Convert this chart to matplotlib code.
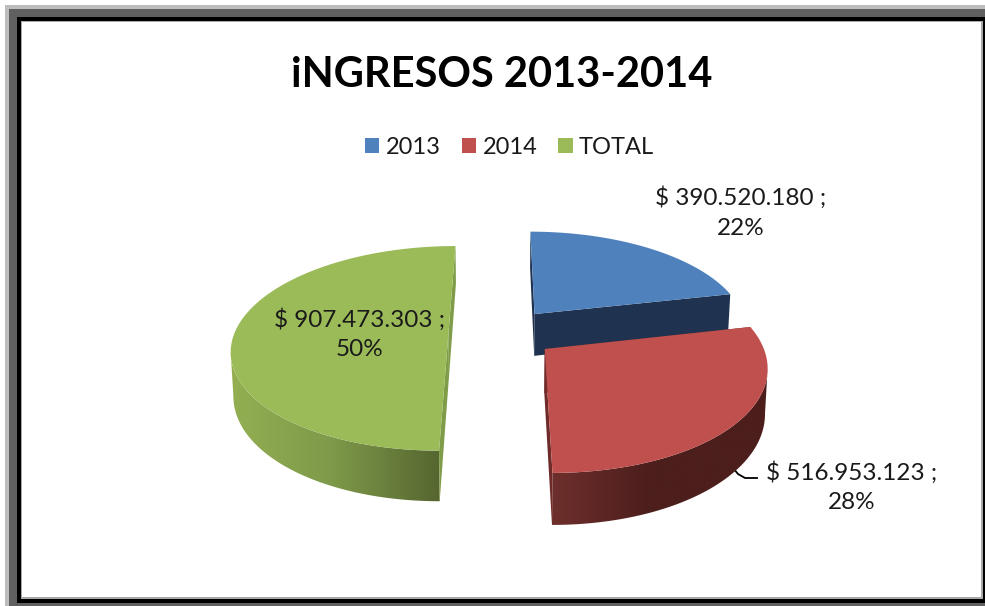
"""
iNGRESOS 2013-2014 - pie 3D (estilo Excel) dibujado con polígonos
"""
import numpy as np
import matplotlib
matplotlib.use('Agg')
import matplotlib.pyplot as plt
from matplotlib.colors import LinearSegmentedColormap
from matplotlib.patches import Patch, Polygon, Rectangle

# ── datos ─────────────────────────────────────────────────────────────────────
categories = ['2013', '2014', 'TOTAL']
values = [390520180, 516953123, 907473303]
title = 'iNGRESOS 2013-2014'

# ── estilo ────────────────────────────────────────────────────────────────────
TOP_COLORS = ['#4F81BD', '#C0504D', '#9BBB59']
FACE_COLORS = ['#1F3350', '#6E2B29', '#7F9C48']
# degradado de la pared exterior, de izquierda a derecha (color, x en píxeles)
WALL_GRADS = [
    None,   # la pared azul queda oculta
    [('#6E2F2C', 552), ('#4C1E1C', 650), ('#4C1E1C', 772)],
    [('#94B052', 228), ('#7F9A4A', 330), ('#55652F', 442)],
]
TEXT = '#1A1A1A'

# proyección del plano del pie a píxeles
CX, CY = 502, 333
RX, RY = 214, 100
K = 0.15        # perspectiva
DEPTH = 43
EXPLODE = 0.25

plt.rcParams['font.family'] = ['Lato', 'DejaVu Sans']


def project(x, y, low=False):
    w = 1 + K * y
    px = CX + RX * x / w
    py = CY - RY * y / w
    if low:
        px = CX + (px - CX) * 0.99
        py = py + DEPTH / w
    return px, py


def money(v):
    return '$ ' + f'{v:,}'.replace(',', '.') + ' ;'


fig = plt.figure(figsize=(9.85, 6.06), dpi=100)
ax = fig.add_axes([0, 0, 1, 1])
ax.set_xlim(0, 985)
ax.set_ylim(606, 0)
ax.axis('off')

# marco de la captura
for x, y, w, h, c in [(5, 5, 980, 601, '#BDBDBD'), (9, 9, 976, 597, '#606060'),
                      (17, 17, 968, 586, '#000000'), (21, 21, 962, 578, '#A8A8A8'),
                      (22, 22, 959, 575, '#FFFFFF')]:
    ax.add_patch(Rectangle((x, y), w, h, fc=c, ec='none'))

# ángulos de cada porción, sentido horario desde arriba
fracs = np.array(values) / sum(values)
edges = 90 - 360 * np.concatenate([[0], np.cumsum(fracs)])

# azul primero (atrás), luego verde y rojo
draw_order = [0, 2, 1]
for n, i in enumerate(draw_order):
    base = 1.1 + n * 0.1
    a0, a1 = np.radians(edges[i]), np.radians(edges[i + 1])
    mid = (a0 + a1) / 2
    ox, oy = EXPLODE * np.cos(mid), EXPLODE * np.sin(mid)
    t = np.linspace(a0, a1, 180)
    arc_x = ox + np.cos(t)
    arc_y = oy + np.sin(t)

    # pared exterior: sólo la parte visible, degradado recortado a la forma
    grad = WALL_GRADS[i]
    if grad is not None:
        tx, ty = project(arc_x, arc_y)
        bx, by = project(arc_x, arc_y, low=True)
        if i == 1:
            k = np.argmax(tx)
            tx, ty, bx, by = tx[k:], ty[k:], bx[k:], by[k:]
        else:
            k = np.argmin(tx)
            tx, ty, bx, by = tx[:k + 1], ty[:k + 1], bx[:k + 1], by[:k + 1]
        wall = Polygon(np.c_[np.r_[tx, bx[::-1]], np.r_[ty, by[::-1]]], closed=True,
                       transform=ax.transData, fc='none', ec='none')
        ax.add_patch(wall)
        x0, x1 = grad[0][1], grad[-1][1]
        cmap = LinearSegmentedColormap.from_list(
            f'wall{i}', [((g[1] - x0) / (x1 - x0), g[0]) for g in grad])
        im = ax.imshow(np.linspace(0, 1, 256)[None, :], cmap=cmap, aspect='auto',
                       extent=(x0, x1, 606, 0), zorder=base, interpolation='bilinear')
        im.set_clip_path(wall)

    # caras radiales
    for tip_x, tip_y in [(arc_x[0], arc_y[0]), (arc_x[-1], arc_y[-1])]:
        xs, ys = np.array([ox, tip_x]), np.array([oy, tip_y])
        fx, fy = project(xs, ys)
        gx, gy = project(xs, ys, low=True)
        ax.fill(np.r_[fx, gx[::-1]], np.r_[fy, gy[::-1]], fc=FACE_COLORS[i], ec='none',
                zorder=base + 0.01)

    # tapa
    px, py = project(np.r_[ox, arc_x], np.r_[oy, arc_y])
    ax.fill(px, py, fc=TOP_COLORS[i], ec='none', zorder=base + 0.02)

ax.set_xlim(0, 985)
ax.set_ylim(606, 0)

# etiquetas de datos
label_pos = [(741, 212.5), (852, 487), (360, 334)]
for v, f, (lx, ly) in zip(values, fracs, label_pos):
    ax.text(lx, ly, f'{money(v)}\n{round(f * 100):d}%', ha='center', va='center',
            fontsize=17.5, color=TEXT, linespacing=1.5, zorder=3)

# línea guía de la etiqueta roja
ax.plot([733, 738, 745, 757], [468, 474, 478, 478], color='black', lw=1.3, zorder=1.0)

ax.text(502, 75, title, ha='center', va='center', fontsize=30, fontweight='bold',
        color='black', zorder=3)

handles = [Patch(fc=c, ec='none', label=n) for c, n in zip(TOP_COLORS, categories)]
ax.legend(handles=handles, loc='center', bbox_to_anchor=(509.5 / 985, 1 - 147 / 606), ncol=3,
          frameon=False, fontsize=17, handlelength=0.62, handleheight=0.62, handletextpad=0.27,
          columnspacing=0.88, labelcolor=TEXT)

fig.savefig('out.png', dpi=100)
